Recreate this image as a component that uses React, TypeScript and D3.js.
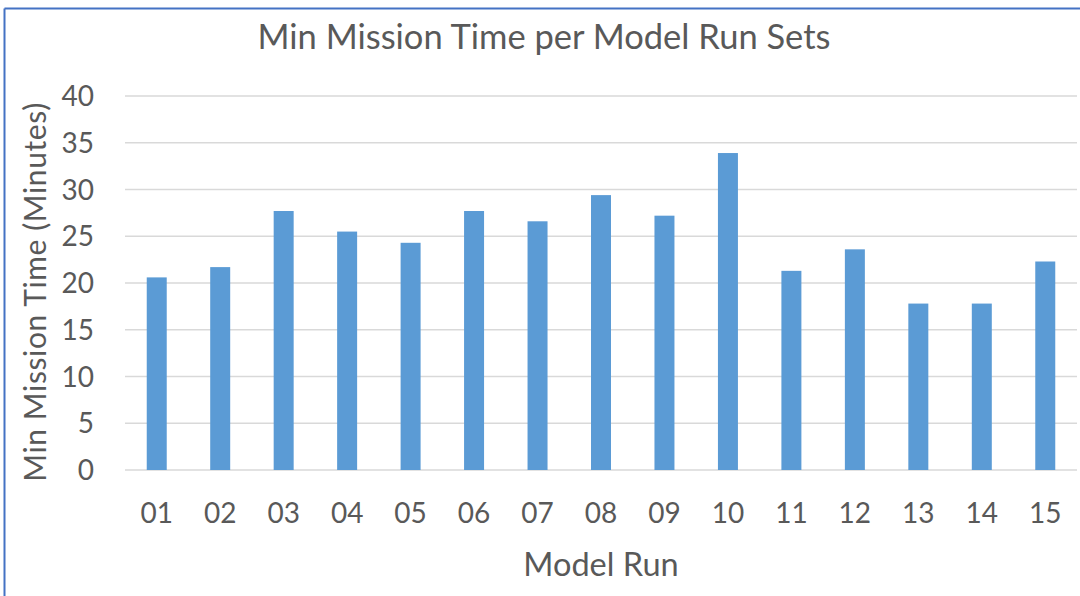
import React from "react";
import * as d3 from "d3";

const categories = ["01","02","03","04","05","06","07","08","09","10","11","12","13","14","15"];
const values = [20.6, 21.7, 27.7, 25.5, 24.3, 27.7, 26.6, 29.4, 27.2, 33.9, 21.3, 23.6, 17.8, 17.8, 22.3];
const yTicks = [0, 5, 10, 15, 20, 25, 30, 35, 40];
const titleText = "Min Mission Time per Model Run Sets";
const xTitle = "Model Run";
const yTitle = "Min Mission Time (Minutes)";

const W = 1080, H = 596;
const FONT = "Lato, 'Open Sans', sans-serif";
const TEXT = "#595959";

export default function App() {
  const left = 125, right = 1077, top = 96, bottom = 470;
  const x = d3.scaleBand<string>().domain(categories).range([left, right]).paddingInner(0.685).paddingOuter(0.3425);
  const y = d3.scaleLinear().domain([0, 40]).range([bottom, top]);
  return (
    <svg width={W} height={H} style={{ position: "absolute", left: 0, top: 0, background: "#fff" }}>
      <rect x={0} y={0} width={W} height={H} fill="#fff" />
      <line x1={4.5} y1={8.5} x2={4.5} y2={H} stroke="#4472c4" strokeWidth={2} />
      <line x1={4.5} y1={8.5} x2={W} y2={8.5} stroke="#4472c4" strokeWidth={2} />
      <text x={544} y={49} textAnchor="middle" fontFamily={FONT} fontSize={34.5} fill={TEXT}>{titleText}</text>
      {yTicks.map(t => (
        <g key={t}>
          <line x1={left} x2={right} y1={y(t)} y2={y(t)} stroke="#d9d9d9" strokeWidth={1.5} />
          <text x={94} y={y(t)} dy="0.36em" textAnchor="end" fontFamily={FONT} fontSize={28} fill={TEXT}>{t}</text>
        </g>
      ))}
      {categories.map((c, i) => (
        <rect key={c} x={x(c)} y={y(values[i])} width={x.bandwidth()} height={y(0) - y(values[i])} fill="#5b9bd5" />
      ))}
      {categories.map(c => (
        <text key={c} x={(x(c) as number) + x.bandwidth() / 2} y={523} textAnchor="middle" fontFamily={FONT} fontSize={28} fill={TEXT}>{c}</text>
      ))}
      <text x={601} y={576} textAnchor="middle" fontFamily={FONT} fontSize={32.5} fill={TEXT}>{xTitle}</text>
      <text transform={`translate(46,292) rotate(-90)`} textAnchor="middle" fontFamily={FONT} fontSize={30} letterSpacing={0.6} fill={TEXT}>{yTitle}</text>
    </svg>
  );
}
